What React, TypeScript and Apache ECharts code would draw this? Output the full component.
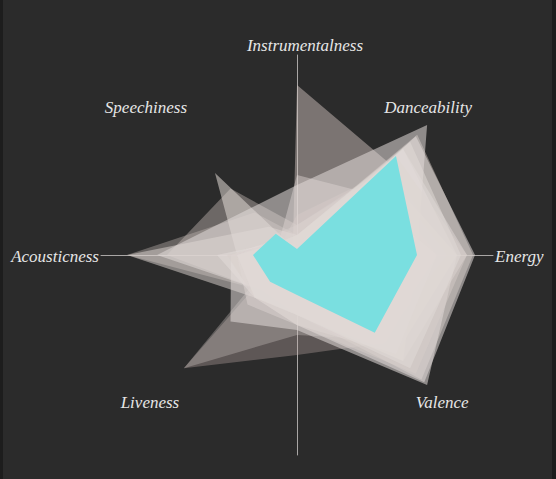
import React, { useEffect, useRef } from "react";
import * as echarts from "echarts";

// Indicator order follows ECharts radar layout (counter-clockwise from the top)
const indicatorNames = [
  "Instrumentalness",
  "Speechiness",
  "Acousticness",
  "Liveness",
  "",
  "Valence",
  "Energy",
  "Danceability",
];

// Track profiles: [Instr, Speech, Acoust, Live, (bottom), Valence, Energy, Dance]
const trackDarkA = [0.85, 0.03, 0.15, 0.2, 0.3, 0.6, 0.75, 0.65];
const trackDarkB = [0.2, 0.1, 0.07, 0.8, 0.5, 0.62, 0.7, 0.55];
const trackDarkC = [0.15, 0.15, 0.1, 0.8, 0.4, 0.6, 0.7, 0.6];
const trackRim = [0.1, 0.1, 0.3, 0.2, 0.3, 0.88, 0.88, 0.85];
const trackWedge = [0.15, 0.47, 0.65, 0.25, 0.3, 0.6, 0.7, 0.55];
const trackWedgeB = [0.1, 0.3, 0.85, 0.25, 0.3, 0.6, 0.75, 0.6];
const trackSpeech = [0.02, 0.58, 0.3, 0.3, 0.3, 0.7, 0.8, 0.6];
const trackAcoustic = [0.1, 0.2, 0.85, 0.3, 0.3, 0.75, 0.85, 0.75];
const trackDance = [0.35, 0.33, 0.7, 0.25, 0.3, 0.75, 0.6, 0.92];
const trackEnergy = [0.05, 0.1, 0.4, 0.3, 0.35, 0.9, 0.89, 0.84];
const trackValence = [0.02, 0.12, 0.33, 0.47, 0.375, 0.92, 0.8, 0.75];
const trackValenceB = [0.05, 0.1, 0.35, 0.3, 0.35, 0.84, 0.85, 0.7];
const trackInstrLow = [0.4, 0.12, 0.3, 0.35, 0.35, 0.7, 0.7, 0.45];
const trackCore = [0.1, 0.1, 0.3, 0.3, 0.3, 0.8, 0.82, 0.8];
const highlighted = [0.03, 0.15, 0.22, 0.19, 0.2, 0.55, 0.6, 0.7];

const tracks = [
  trackDarkA,
  trackDarkB,
  trackDarkC,
  trackRim,
  trackWedge,
  trackWedgeB,
  trackSpeech,
  trackAcoustic,
  trackDance,
  trackEnergy,
  trackValence,
  trackValenceB,
  trackInstrLow,
  trackCore,
];
const trackFills = [
  "rgba(215,200,196,0.47)",
  "rgba(200,180,175,0.33)",
  "rgba(215,205,201,0.32)",
  "rgba(185,174,170,0.55)",
  "rgba(200,188,184,0.42)",
  "rgba(200,188,184,0.38)",
  "rgba(224,216,212,0.55)",
  "rgba(224,216,212,0.5)",
  "rgba(226,219,216,0.55)",
  "rgba(226,219,216,0.55)",
  "rgba(226,219,216,0.55)",
  "rgba(215,206,202,0.45)",
  "rgba(224,216,212,0.45)",
  "rgba(226,219,216,0.5)",
];

// small horizontal nudges of the axis names, in px
const labelNudge = [8, -4, 0, 0, 0, -2, 0, -16];

const CX = 294;
const CY = 255;
const R = 200;

export default function App() {
  const ref = useRef<HTMLDivElement>(null);
  useEffect(() => {
    if (!ref.current) return;
    const chart = echarts.init(ref.current, null, { renderer: "svg" });
    const n = indicatorNames.length;
    const labelFont = {
      fontFamily: "'Liberation Serif', serif",
      fontStyle: "italic",
      fontSize: 17,
      fill: "#e6e6e6",
    };
    const labels = indicatorNames
      .map((name, i) => {
        if (!name) return null;
        const ang = ((90 + (i * 360) / n) * Math.PI) / 180;
        const c = Math.cos(ang);
        const s = Math.sin(ang);
        let x, y, align, vAlign;
        if (Math.abs(s) > 0.99) {
          x = CX;
          y = CY - s * (R + 1);
          align = "center";
          vAlign = s > 0 ? "bottom" : "top";
        } else if (Math.abs(c) > 0.99) {
          x = CX + c * 198;
          y = CY + 1;
          align = c > 0 ? "left" : "right";
          vAlign = "middle";
        } else {
          x = CX + c * 208;
          y = CY - s * 208;
          align = "center";
          vAlign = "middle";
        }
        return {
          type: "text",
          x: x + labelNudge[i],
          y,
          silent: true,
          style: { ...labelFont, text: name, align, verticalAlign: vAlign },
        };
      })
      .filter(Boolean);

    const hiddenParts = {
      axisName: { show: false },
      splitLine: { show: false },
      splitArea: { show: false },
      axisTick: { show: false },
      axisLabel: { show: false },
    };
    const crossLine = { show: true, lineStyle: { color: "#a9a6a5", width: 1 } };

    chart.setOption({
      animation: false,
      backgroundColor: "transparent",
      radar: [
        {
          center: [CX, CY],
          radius: R,
          startAngle: 90,
          indicator: indicatorNames.map((name) => ({ name, min: 0, max: 1 })),
          ...hiddenParts,
          axisLine: { show: false },
        },
        {
          center: [CX, CY],
          radius: R,
          startAngle: 90,
          indicator: [
            { name: "", min: 0, max: 1 },
            { name: "", min: 0, max: 1 },
          ],
          ...hiddenParts,
          axisLine: crossLine,
        },
        {
          center: [CX, CY],
          radius: 196,
          startAngle: 0,
          indicator: [
            { name: "", min: 0, max: 1 },
            { name: "", min: 0, max: 1 },
          ],
          ...hiddenParts,
          axisLine: crossLine,
        },
      ],
      series: [
        {
          type: "radar",
          radarIndex: 0,
          symbol: "none",
          silent: true,
          lineStyle: { width: 0, opacity: 0 },
          data: tracks.map((v, i) => ({
            value: v,
            areaStyle: { color: trackFills[i], opacity: 1 },
          })),
        },
        {
          type: "radar",
          radarIndex: 0,
          symbol: "none",
          silent: true,
          lineStyle: { width: 0, opacity: 0 },
          data: [
            {
              value: highlighted,
              areaStyle: { color: "#7adfe0", opacity: 1 },
            },
          ],
        },
      ],
      graphic: labels,
    });
    return () => chart.dispose();
  }, []);

  return (
    <div
      style={{
        position: "fixed",
        left: 0,
        top: 0,
        width: 556,
        height: 479,
        background: "#1d1d1d",
      }}
    >
      <div
        ref={ref}
        style={{
          position: "absolute",
          left: 3,
          top: 0,
          width: 549,
          height: 479,
          background: "#2b2b2b",
        }}
      />
    </div>
  );
}
